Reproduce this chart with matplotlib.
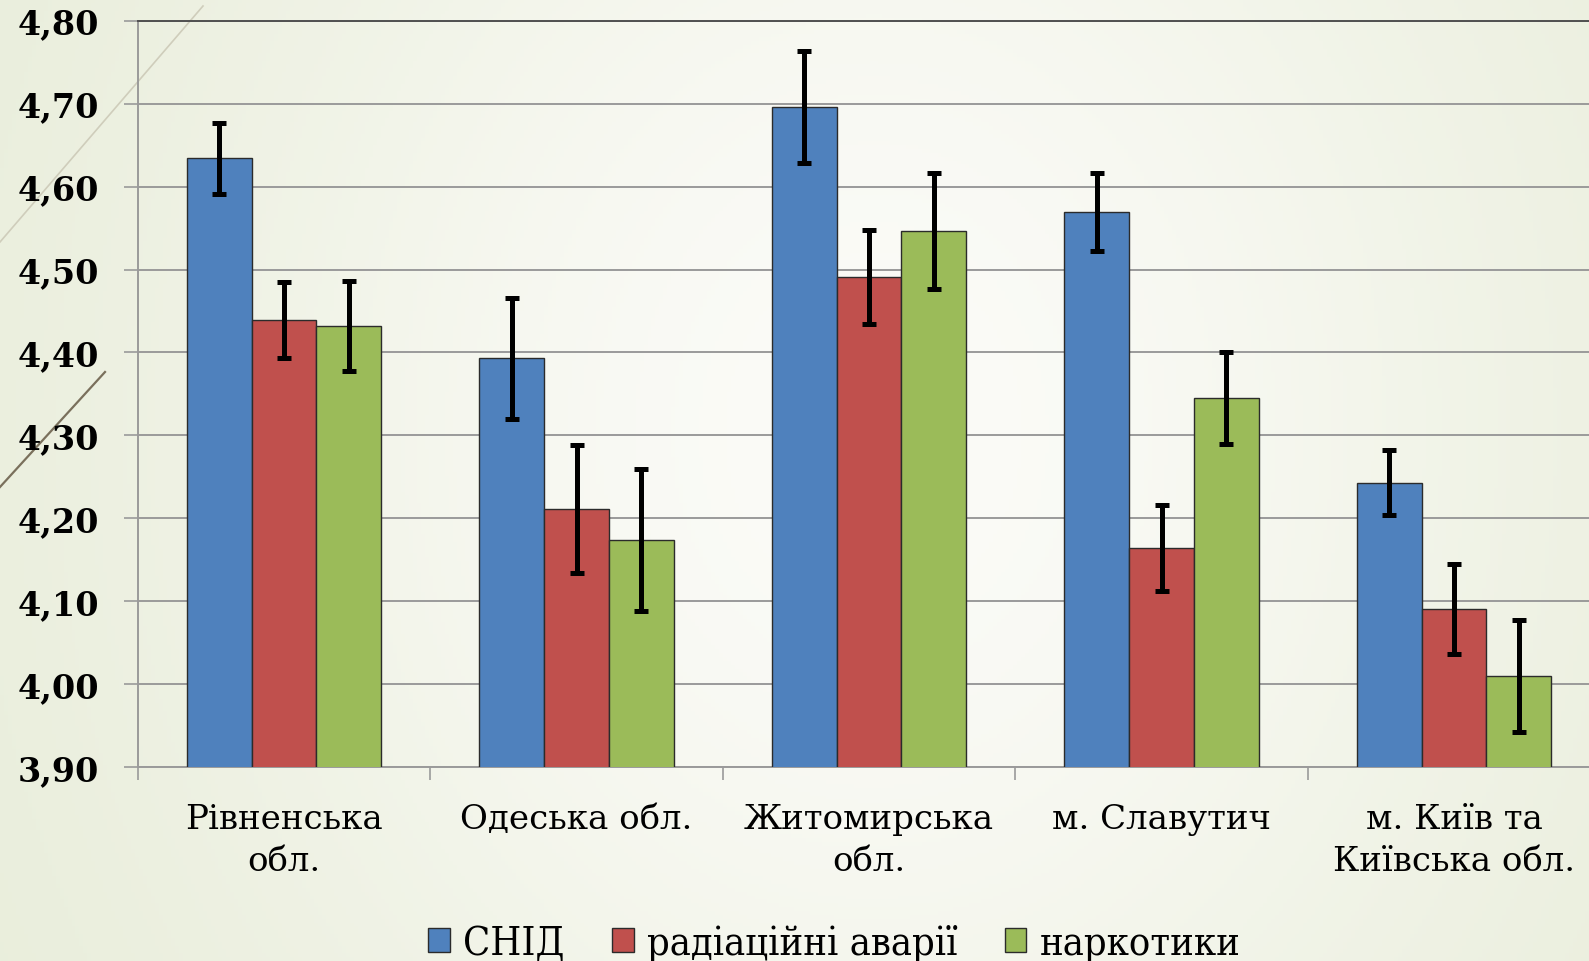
import numpy as np
import matplotlib.pyplot as plt
from matplotlib.ticker import FuncFormatter, FixedLocator, MultipleLocator
from matplotlib.patches import Patch
from matplotlib.lines import Line2D

# data
regions = ["Рівненська\nобл.", "Одеська обл.", "Житомирська\nобл.",
           "м. Славутич", "м. Київ та\nКиївська обл."]
series = ["СНІД", "радіаційні аварії", "наркотики"]
aids = [4.634, 4.393, 4.696, 4.569, 4.243]
aids_err = [0.043, 0.073, 0.068, 0.047, 0.039]
radiation = [4.439, 4.211, 4.491, 4.164, 4.091]
radiation_err = [0.046, 0.077, 0.057, 0.052, 0.054]
drugs = [4.432, 4.174, 4.546, 4.345, 4.010]
drugs_err = [0.054, 0.086, 0.070, 0.055, 0.067]
colors = ["#4F81BD", "#C0504D", "#9BBB59"]

fig = plt.figure(figsize=(15.89, 9.62), dpi=100)

# background gradient
bg = fig.add_axes([0, 0, 1, 1], zorder=-10)
bg.axis("off")
xx, yy = np.meshgrid(np.linspace(0, 1, 400), np.linspace(0, 1, 250))
t = np.exp(-((xx - 0.55) / 0.45) ** 2 - ((yy - 0.55) / 0.9) ** 2)
edge = np.array([0.905, 0.925, 0.845])
center = np.array([0.985, 0.985, 0.97])
img = edge[None, None, :] * (1 - t[..., None]) + center[None, None, :] * t[..., None]
bg.imshow(img, extent=[0, 1, 0, 1], aspect="auto", origin="lower")
bg.set_xlim(0, 1)
bg.set_ylim(0, 1)
# decorative diagonal lines at the left edge
bg.add_line(Line2D([203 / 1589, 0], [1 - 7 / 962, 1 - 243 / 962], color="#cfcdbb", lw=1.2))
bg.add_line(Line2D([105 / 1589, 0], [1 - 373 / 962, 1 - 488 / 962], color="#7a705c", lw=1.6))

ax = fig.add_axes([0.0867, 0.2014, 0.9204, 0.7761])
ax.set_facecolor("none")

x = np.arange(len(regions))
w = 0.2215
err_kw = dict(ecolor="black", elinewidth=3.6, capsize=5, capthick=3.6)
for i, (vals, errs) in enumerate([(aids, aids_err), (radiation, radiation_err), (drugs, drugs_err)]):
    ax.bar(x + (i - 1) * w, vals, w, yerr=errs, color=colors[i], edgecolor="#2b2b2b",
           linewidth=1.0, error_kw=err_kw, zorder=3, label=series[i])

ax.set_ylim(3.9, 4.8)
ax.set_xlim(-0.5, 4.5)
ax.yaxis.set_major_locator(MultipleLocator(0.1))
ax.yaxis.set_major_formatter(FuncFormatter(lambda v, p: f"{v:.2f}".replace(".", ",")))
ax.grid(axis="y", color="#9a9a9a", linewidth=1.4, zorder=0)
ax.set_axisbelow(True)

ax.set_xticks(x)
ax.set_xticklabels(regions, fontsize=24.5, family="DejaVu Serif", linespacing=1.4)
ax.xaxis.set_minor_locator(FixedLocator(np.arange(-0.5, 5, 1)))
ax.tick_params(axis="x", which="major", length=0, pad=26)
ax.tick_params(axis="x", which="minor", length=9, width=1.2, color="#9a9a9a")
ax.tick_params(axis="y", length=10, width=1.2, color="#9a9a9a", pad=18)
for lab in ax.get_yticklabels():
    lab.set_fontsize(24)
    lab.set_fontweight("bold")
    lab.set_family("DejaVu Serif")

ax.spines["right"].set_visible(False)
ax.spines["left"].set_color("#9a9a9a")
ax.spines["bottom"].set_color("#9a9a9a")
ax.spines["top"].set_color("#505050")
for s in ["left", "bottom", "top"]:
    ax.spines[s].set_linewidth(1.4)

handles = [Patch(facecolor=c, edgecolor="#2b2b2b", linewidth=1.0) for c in colors]
fig.legend(handles, series, loc="center", bbox_to_anchor=(0.525, 0.019), ncol=3,
           frameon=False, handlelength=0.55, handleheight=0.55, handletextpad=0.33,
           columnspacing=1.2, prop=dict(family="DejaVu Serif", size=28.5, stretch="condensed"))

fig.savefig("out.png", dpi=100)
